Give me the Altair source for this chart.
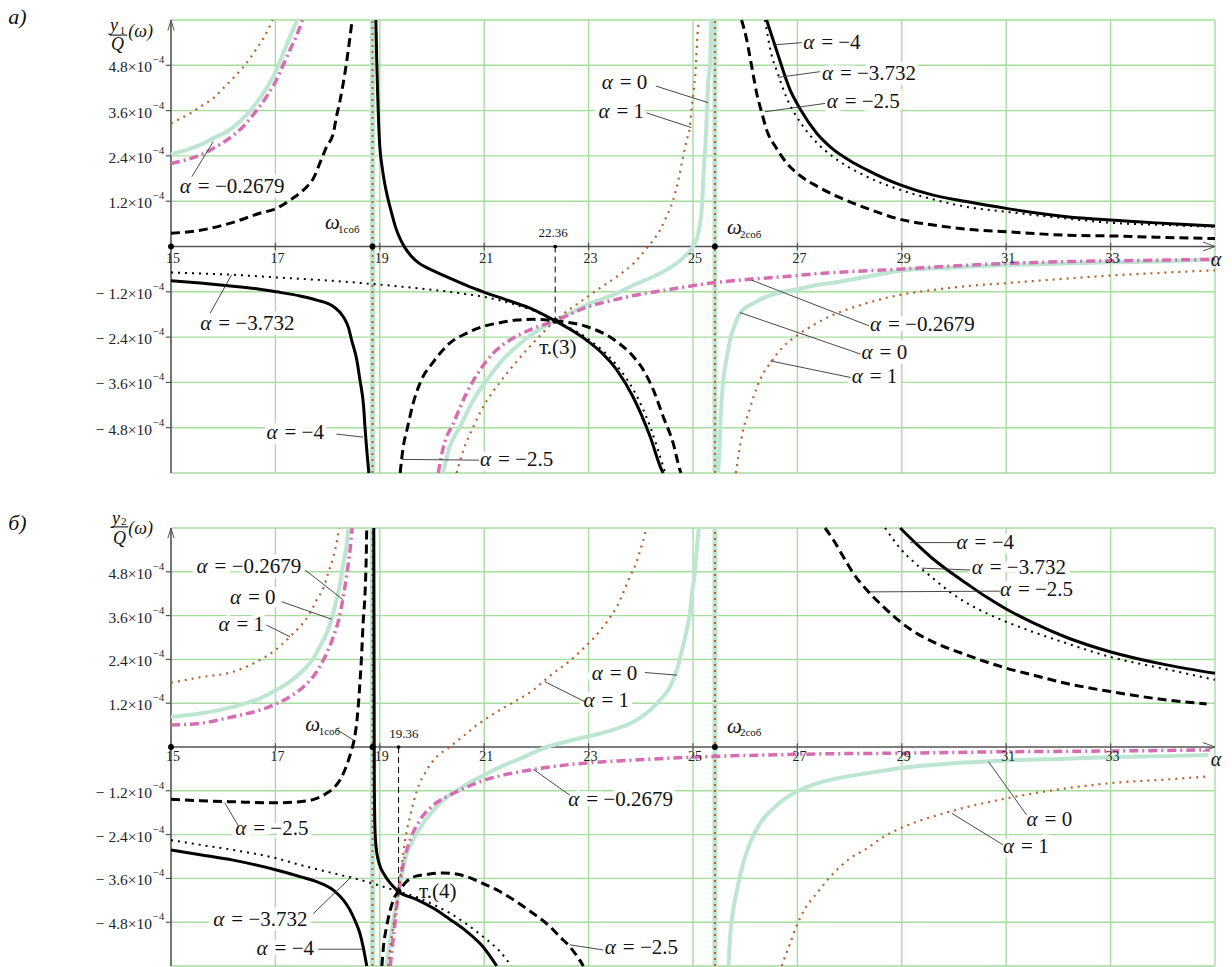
import altair as alt
import pandas as pd

# ---------------- axes, grid and special frequencies ----------------
X_TICKS = [15, 17, 19, 21, 23, 25, 27, 29, 31, 33]
X_GRID = [15, 17, 19, 21, 23, 25, 27, 29, 31, 33, 35]
Y_GRID = [-6.0, -4.8, -3.6, -2.4, -1.2, 1.2, 2.4, 3.6, 4.8, 6.0]
Y_TICKS = [-4.8, -3.6, -2.4, -1.2, 1.2, 2.4, 3.6, 4.8]
Y_TICK_TEXT = ["− 4.8×10", "− 3.6×10", "− 2.4×10", "− 1.2×10",
               "1.2×10", "2.4×10", "3.6×10", "4.8×10"]

OMEGA_1 = 18.86          # first natural frequency
OMEGA_2 = 25.42          # second natural frequency
POINT_3 = (22.36, -1.97)  # common point of the y1 family (units of 1e-4)
POINT_4 = (19.36, -3.96)  # common point of the y2 family (units of 1e-4)

# ---------------- y1/Q(ω), values in units of 1e-4 ----------------
A_M4 = [  # α = −4
    [(15.0, -0.91), (15.56, -0.97), (16.19, -1.05), (16.6, -1.11), (17.02, -1.20), (17.47, -1.31),
     (17.79, -1.42), (18.11, -1.59), (18.3, -1.86), (18.4, -2.15), (18.46, -2.48), (18.56, -3.01),
     (18.62, -3.54), (18.69, -4.24), (18.72, -4.86), (18.75, -5.39), (18.79, -6.0)],
    [(18.925, 6.0), (18.94, 5.0), (18.96, 4.0), (18.98, 3.2), (19.0, 2.65), (19.04, 2.15), (19.09, 1.7),
     (19.15, 1.3), (19.22, 0.92), (19.3, 0.52), (19.39, 0.2), (19.49, -0.05), (19.6, -0.25),
     (19.75, -0.44), (19.9, -0.56), (20.02, -0.64), (20.34, -0.84), (20.66, -1.03), (20.98, -1.2),
     (21.46, -1.43), (21.94, -1.67), (22.36, -1.97), (22.96, -2.48), (23.54, -3.27), (23.85, -3.98),
     (24.18, -5.04), (24.4, -5.92), (24.43, -6.0)],
    [(26.41, 6.0), (26.6, 5.2), (26.86, 4.15), (27.05, 3.65), (27.37, 3.0), (27.68, 2.58), (28.0, 2.28),
     (28.33, 2.03), (28.97, 1.63), (29.6, 1.36), (30.24, 1.19), (31.0, 1.01), (32.16, 0.79),
     (32.99, 0.70), (34.07, 0.61), (35.0, 0.54)],
]
A_M3732 = [  # α = −3.732
    [(15.0, -0.69), (16.19, -0.75), (17.02, -0.82), (18.11, -0.91), (18.75, -0.98), (19.39, -1.06),
     (20.02, -1.15), (20.5, -1.23), (20.98, -1.33), (21.62, -1.55), (22.0, -1.73), (22.36, -1.97),
     (22.96, -2.42), (23.54, -3.15), (23.86, -3.8), (24.2, -4.85), (24.4, -5.7), (24.47, -6.0)],
    [(26.38, 6.0), (26.5, 5.1), (26.62, 4.6), (26.79, 3.95), (27.05, 3.3), (27.37, 2.75), (27.68, 2.38),
     (28.33, 1.85), (28.97, 1.5), (29.6, 1.25), (30.24, 1.05), (31.0, 0.92), (32.16, 0.74),
     (32.99, 0.63), (34.07, 0.57), (35.0, 0.52)],
]
A_M25 = [  # α = −2.5
    [(15.0, 0.35), (15.56, 0.43), (16.19, 0.64), (16.7, 0.88), (17.02, 1.01), (17.28, 1.23), (17.54, 1.5),
     (17.73, 1.81), (17.85, 2.2), (17.98, 2.64), (18.11, 3.0), (18.17, 3.44), (18.24, 3.88),
     (18.3, 4.33), (18.37, 4.94), (18.43, 5.56), (18.47, 6.0)],
    [(19.39, -6.0), (19.45, -5.3), (19.52, -4.86), (19.64, -4.15), (19.77, -3.62), (20.03, -3.05),
     (20.34, -2.56), (20.66, -2.3), (20.98, -2.12), (21.3, -2.02), (21.62, -1.95), (21.94, -1.93),
     (22.36, -1.97), (22.96, -2.12), (23.54, -2.52), (23.86, -2.92), (24.05, -3.27), (24.24, -3.8),
     (24.43, -4.51), (24.62, -5.21), (24.75, -5.92), (24.77, -6.0)],
    [(25.93, 6.0), (26.03, 5.47), (26.09, 5.03), (26.16, 4.5), (26.22, 4.06), (26.32, 3.53),
     (26.41, 3.09), (26.6, 2.6), (26.79, 2.22), (27.05, 1.88), (27.37, 1.6), (27.68, 1.38),
     (28.33, 1.01), (28.97, 0.72), (29.6, 0.57), (30.24, 0.46), (31.0, 0.39), (32.16, 0.3),
     (32.99, 0.28), (34.07, 0.24), (35.0, 0.21)],
]
A_M02679 = [  # α = −0.2679
    [(15.0, 2.2), (15.3, 2.3), (15.56, 2.42), (15.81, 2.6), (16.07, 2.82), (16.32, 3.09), (16.58, 3.5),
     (16.83, 3.97), (17.02, 4.41), (17.15, 4.81), (17.28, 5.21), (17.41, 5.6), (17.52, 6.0)],
    [(20.12, -6.0), (20.22, -5.3), (20.41, -4.68), (20.66, -3.89), (20.92, -3.27), (21.17, -2.83),
     (21.49, -2.48), (21.94, -2.17), (22.36, -1.97), (22.96, -1.61), (23.54, -1.4), (23.86, -1.3),
     (24.5, -1.15), (24.81, -1.08), (25.39, -0.96), (26.09, -0.87), (26.73, -0.8), (27.37, -0.72),
     (27.69, -0.69), (28.97, -0.6), (29.92, -0.52), (31.0, -0.45), (32.16, -0.4), (32.99, -0.38),
     (34.07, -0.36), (35.0, -0.34)],
]
A_0 = [  # α = 0
    [(15.0, 2.45), (15.3, 2.56), (15.56, 2.69), (15.81, 2.87), (16.07, 3.04), (16.32, 3.31),
     (16.58, 3.7), (16.83, 4.19), (17.02, 4.68), (17.15, 5.12), (17.28, 5.56), (17.42, 6.0)],
    [(20.21, -6.0), (20.34, -5.3), (20.54, -4.77), (20.79, -4.07), (21.05, -3.54), (21.3, -3.09),
     (21.62, -2.65), (21.94, -2.3), (22.36, -1.97), (22.96, -1.55), (23.54, -1.24), (23.86, -1.02),
     (24.2, -0.82), (24.49, -0.62), (24.81, -0.3), (25.0, 0.0), (25.1, 0.35), (25.17, 1.05),
     (25.21, 2.11), (25.25, 3.0), (25.27, 3.7), (25.29, 4.32), (25.33, 4.94), (25.35, 6.0)],
    [(25.48, -6.0), (25.51, -5.3), (25.53, -4.51), (25.58, -3.54), (25.65, -2.92), (25.71, -2.48),
     (25.8, -2.08), (25.9, -1.77), (26.16, -1.5), (26.41, -1.33), (26.73, -1.2), (27.05, -1.12),
     (27.37, -1.02), (27.68, -0.96), (28.33, -0.8), (28.97, -0.64), (29.92, -0.56), (31.0, -0.49),
     (32.16, -0.45), (32.99, -0.42), (34.07, -0.39), (35.0, -0.34)],
]
A_1 = [  # α = 1
    [(15.0, 3.26), (15.17, 3.38), (15.36, 3.52), (15.56, 3.7), (15.81, 3.93), (16.0, 4.19),
     (16.19, 4.46), (16.39, 4.76), (16.58, 5.12), (16.77, 5.52), (16.95, 6.0)],
    [(20.47, -6.0), (20.6, -5.4), (20.8, -4.75), (21.0, -4.2), (21.3, -3.6), (21.62, -3.05),
     (21.94, -2.55), (22.36, -1.97), (22.96, -1.35), (23.22, -1.1), (23.54, -0.8), (23.86, -0.45),
     (24.11, -0.05), (24.37, 0.44), (24.49, 0.79), (24.62, 1.23), (24.72, 1.76), (24.81, 2.38),
     (24.88, 2.82), (24.94, 3.17), (24.97, 3.62), (25.0, 3.97), (25.04, 4.5), (25.06, 4.94),
     (25.08, 5.47), (25.11, 6.0)],
    [(25.82, -6.0), (25.9, -5.3), (25.96, -4.86), (26.06, -4.42), (26.16, -3.98), (26.28, -3.54),
     (26.48, -3.09), (26.73, -2.65), (26.99, -2.36), (27.37, -2.03), (27.69, -1.81), (28.33, -1.5),
     (28.97, -1.28), (29.6, -1.15), (30.24, -1.05), (31.0, -0.97), (32.16, -0.85), (32.99, -0.77),
     (34.07, -0.69), (35.0, -0.63)],
]

# ---------------- y2/Q(ω), values in units of 1e-4 ----------------
B_M4 = [
    [(15.0, -2.82), (15.56, -2.95), (16.19, -3.1), (17.02, -3.37), (17.47, -3.55), (17.79, -3.69),
     (18.11, -3.92), (18.3, -4.19), (18.43, -4.47), (18.52, -4.74), (18.62, -5.11), (18.68, -5.47),
     (18.75, -6.0)],
    [(18.885, 6.0), (18.89, 2.0), (18.895, -1.0), (18.9, -1.7), (18.91, -2.35), (18.93, -2.75),
     (18.97, -3.1), (19.02, -3.32), (19.07, -3.46), (19.2, -3.73), (19.36, -3.96), (19.71, -4.18),
     (20.03, -4.42), (20.34, -4.72), (20.66, -5.05), (20.98, -5.48), (21.24, -6.0)],
    [(28.97, 6.0), (29.29, 5.55), (29.6, 5.15), (29.92, 4.8), (30.24, 4.48), (30.63, 4.1),
     (31.0, 3.78), (31.52, 3.4), (32.16, 3.0), (32.99, 2.61), (34.07, 2.25), (35.0, 2.02)],
]
B_M3732 = [
    [(15.0, -2.55), (15.56, -2.68), (16.19, -2.82), (17.02, -3.05), (17.47, -3.23), (18.11, -3.46),
     (18.43, -3.57), (18.75, -3.69), (19.07, -3.83), (19.36, -3.96), (19.77, -4.15), (20.03, -4.32),
     (20.34, -4.55), (20.66, -4.85), (20.98, -5.2), (21.3, -5.6), (21.52, -6.0)],
    [(28.68, 6.0), (28.97, 5.44), (29.29, 4.99), (29.6, 4.62), (29.92, 4.25), (30.24, 3.95),
     (30.63, 3.66), (31.0, 3.43), (31.52, 3.15), (32.16, 2.84), (32.99, 2.47), (34.07, 2.13),
     (35.0, 1.84)],
]
B_M25 = [
    [(15.0, -1.43), (15.56, -1.47), (16.19, -1.5), (17.02, -1.53), (17.47, -1.5), (17.79, -1.41),
     (17.98, -1.27), (18.11, -1.13), (18.24, -0.9), (18.33, -0.63), (18.4, -0.36), (18.46, -0.08),
     (18.52, 0.28), (18.57, 0.83), (18.61, 1.56), (18.65, 2.47), (18.68, 3.39), (18.72, 4.3),
     (18.74, 5.21), (18.75, 6.0)],
    [(19.04, -6.0), (19.07, -5.47), (19.13, -4.92), (19.2, -4.47), (19.27, -4.15), (19.36, -3.96),
     (19.51, -3.69), (19.71, -3.53), (19.9, -3.49), (20.22, -3.45), (20.66, -3.55), (20.98, -3.74),
     (21.3, -3.96), (21.62, -4.24), (21.94, -4.56), (22.26, -4.92), (22.45, -5.2), (22.64, -5.47),
     (22.83, -5.84), (22.9, -6.0)],
    [(27.53, 6.0), (27.69, 5.67), (27.88, 5.21), (28.07, 4.76), (28.33, 4.3), (28.65, 3.84),
     (28.97, 3.43), (29.29, 3.11), (29.6, 2.88), (30.24, 2.52), (31.0, 2.16), (31.52, 1.97),
     (32.16, 1.74), (32.99, 1.52), (34.07, 1.29), (34.84, 1.18)],
]
B_M02679 = [
    [(15.0, 0.6), (15.56, 0.65), (16.19, 0.83), (16.7, 1.01), (16.96, 1.15), (17.28, 1.38),
     (17.54, 1.65), (17.79, 2.06), (17.98, 2.56), (18.11, 3.02), (18.21, 3.47), (18.3, 4.11),
     (18.37, 4.76), (18.43, 5.4), (18.47, 6.0)],
    [(19.2, -6.0), (19.28, -4.95), (19.36, -3.96), (19.45, -3.19), (19.58, -2.55), (19.77, -2.0),
     (20.03, -1.59), (20.34, -1.32), (20.66, -1.1), (20.98, -0.92), (21.3, -0.79), (21.88, -0.63),
     (22.58, -0.49), (23.22, -0.41), (23.86, -0.36), (24.49, -0.31), (25.13, -0.27), (25.77, -0.24),
     (26.41, -0.22), (27.37, -0.19), (28.97, -0.17), (31.0, -0.13), (32.99, -0.11), (34.9, -0.08)],
]
B_0 = [
    [(15.0, 0.83), (15.56, 0.92), (16.19, 1.1), (16.7, 1.33), (16.96, 1.52), (17.28, 1.79),
     (17.54, 2.11), (17.73, 2.43), (17.85, 2.75), (17.98, 3.11), (18.07, 3.48), (18.17, 4.03),
     (18.24, 4.48), (18.3, 5.03), (18.37, 5.58), (18.4, 6.0)],
    [(19.13, -6.0), (19.23, -5.01), (19.36, -3.96), (19.45, -3.3), (19.52, -2.91), (19.64, -2.55),
     (19.83, -2.09), (20.03, -1.73), (20.22, -1.45), (20.54, -1.13), (20.98, -0.78), (21.3, -0.55),
     (21.62, -0.36), (22.2, 0.0), (22.58, 0.15), (22.96, 0.28), (23.35, 0.42), (23.86, 0.69),
     (24.18, 1.01), (24.37, 1.29), (24.56, 1.65), (24.69, 2.11), (24.79, 2.66), (24.88, 3.21),
     (24.94, 3.66), (24.99, 4.3), (25.04, 4.85), (25.07, 5.4), (25.11, 6.0)],
    [(25.68, -6.0), (25.71, -5.2), (25.77, -4.47), (25.87, -3.73), (25.96, -3.19), (26.09, -2.64),
     (26.28, -2.1), (26.54, -1.68), (26.73, -1.45), (27.05, -1.18), (27.37, -1.0), (27.69, -0.88),
     (28.33, -0.72), (28.97, -0.58), (29.92, -0.45), (31.0, -0.37), (32.16, -0.32), (32.99, -0.28),
     (34.07, -0.25), (34.87, -0.22)],
]
B_1 = [
    [(15.0, 1.76), (15.56, 1.91), (16.19, 2.06), (16.7, 2.38), (16.96, 2.61), (17.28, 3.02),
     (17.47, 3.3), (17.66, 3.66), (17.79, 4.03), (17.92, 4.35), (18.01, 4.76), (18.11, 5.21),
     (18.17, 5.58), (18.22, 6.0)],
    [(19.16, -6.0), (19.22, -5.3), (19.29, -4.6), (19.36, -3.96), (19.42, -3.25), (19.48, -2.6),
     (19.58, -1.9), (19.71, -1.2), (19.9, -0.63), (20.09, -0.27), (20.34, 0.0), (20.5, 0.19),
     (20.66, 0.37), (20.82, 0.56), (20.98, 0.72), (21.17, 0.9), (21.43, 1.12), (21.69, 1.33),
     (21.94, 1.56), (22.13, 1.79), (22.32, 2.02), (22.58, 2.29), (22.87, 2.66), (23.12, 3.02),
     (23.35, 3.43), (23.54, 3.84), (23.67, 4.25), (23.79, 4.66), (23.92, 5.07), (24.01, 5.49),
     (24.08, 5.85), (24.1, 6.0)],
    [(26.7, -6.0), (26.73, -5.88), (26.86, -5.38), (26.99, -4.88), (27.15, -4.42), (27.37, -4.01),
     (27.69, -3.46), (28.01, -3.05), (28.33, -2.78), (28.65, -2.46), (28.97, -2.23), (29.92, -1.77),
     (31.0, -1.41), (32.16, -1.13), (32.99, -0.99), (34.07, -0.89), (34.84, -0.81)],
]

# ---------------- curve labels: x, y, text after α, leader x1, y1, x2, y2 ----------------
A_LABELS = [
    (15.17, 1.58, "= −0.2679", 15.40, 1.85, 15.81, 2.78),
    (27.11, 5.39, "= −4", 26.54, 5.34, 27.08, 5.40),
    (27.47, 4.57, "= −3.732", 26.63, 4.48, 27.43, 4.63),
    (27.56, 3.84, "= −2.5", 26.38, 3.57, 27.53, 3.79),
    (23.25, 4.34, "= 0", 24.29, 4.25, 25.29, 3.81),
    (23.19, 3.57, "= 1", 24.11, 3.54, 24.97, 3.15),
    (15.56, -2.06, "= −3.732", 15.75, -1.77, 16.16, -0.75),
    (16.83, -4.95, "= −4", 18.17, -4.97, 18.68, -5.05),
    (20.92, -5.66, "= −2.5", 19.42, -5.64, 20.90, -5.66),
    (28.39, -2.08, "= −0.2679", 26.12, -0.89, 28.37, -2.10),
    (28.23, -2.83, "= 0", 25.90, -1.75, 28.21, -2.85),
    (28.04, -3.45, "= 1", 26.48, -3.03, 28.02, -3.47),
]
B_LABELS = [
    (15.49, 4.94, "= −0.2679", 17.57, 4.85, 18.30, 4.03),
    (16.13, 4.07, "= 0", 17.12, 3.98, 18.08, 3.50),
    (15.91, 3.34, "= 1", 16.83, 3.34, 17.28, 3.02),
    (23.06, 1.99, "= 0", 24.08, 2.04, 24.69, 1.97),
    (22.90, 1.27, "= 1", 22.16, 1.79, 22.93, 1.24),
    (30.05, 5.60, "= −4", 29.16, 5.60, 30.08, 5.60),
    (30.34, 4.90, "= −3.732", 29.38, 4.90, 30.31, 4.85),
    (30.88, 4.30, "= −2.5", 28.39, 4.25, 30.88, 4.27),
    (16.23, -2.25, "= −2.5", 16.03, -1.53, 16.29, -2.16),
    (15.81, -4.74, "= −3.732", 17.73, -4.56, 18.46, -3.55),
    (16.64, -5.54, "= −4", 17.82, -5.54, 18.68, -5.54),
    (22.61, -1.45, "= −0.2679", 21.94, -0.61, 22.64, -1.32),
    (23.31, -5.52, "= −2.5", 22.64, -5.42, 23.28, -5.56),
    (31.39, -2.00, "= 0", 30.66, -0.40, 31.39, -1.86),
    (30.94, -2.73, "= 1", 29.96, -1.82, 30.94, -2.68),
]

# ---------------- styling ----------------
GRID = "#a6dc9e"
MINT = "#bde6d2"
PINK = "#d66db3"
RUST = "#bb5f2b"
AXIS = "#555555"
SERIF = "'Liberation Serif', 'Times New Roman', serif"
LABEL_SIZE = 21

XS = alt.Scale(domain=[15, 35], range=[171, 1215], nice=False, zero=False)
YS = {
    "a": alt.Scale(domain=[-6, 6], range=[473, 20], nice=False, zero=False),
    "b": alt.Scale(domain=[-6, 6], range=[966, 528], nice=False, zero=False),
}


def xenc():
    return alt.X("x:Q", scale=XS, axis=None)


def yenc(p):
    return alt.Y("y:Q", scale=YS[p], axis=None)


def segs(p, rows, **style):
    df = pd.DataFrame(rows, columns=["x", "y", "x2", "y2"])
    return alt.Chart(df).mark_rule(**style).encode(
        x=xenc(), y=yenc(p), x2="x2:Q", y2="y2:Q")


def words(p, rows, **style):
    df = pd.DataFrame(rows, columns=["x", "y", "t"])
    style.setdefault("baseline", "middle")
    style.setdefault("font", SERIF)
    style.setdefault("color", "#111111")
    return alt.Chart(df).mark_text(**style).encode(x=xenc(), y=yenc(p), text="t:N")


def dots(p, pts, size):
    df = pd.DataFrame(pts, columns=["x", "y"])
    return alt.Chart(df).mark_circle(size=size, color="black", opacity=1).encode(
        x=xenc(), y=yenc(p))


def curve(p, branches, **style):
    rows = [(x, y, b, k) for b, br in enumerate(branches) for k, (x, y) in enumerate(br)]
    df = pd.DataFrame(rows, columns=["x", "y", "b", "k"])
    return alt.Chart(df).mark_line(interpolate="monotone", **style).encode(
        x=xenc(), y=yenc(p), detail="b:N", order="k:Q")


def panel(p, curves, labels, extra_text, extra_segs, point, tick_dy, title):
    alpha_rows = [(x, y, "α") for x, y, *_ in labels]
    rest_rows = [(x, y, t) for x, y, t, *_ in labels]
    leaders = [(a, b, c, d) for _, _, _, a, b, c, d in labels]
    m4, m3732, m25, m02679, z0, one = curves
    L = [
        # grid
        segs(p, [(g, -6, g, 6) for g in X_GRID], color=GRID, strokeWidth=1.4),
        segs(p, [(15, g, 35, g) for g in Y_GRID], color=GRID, strokeWidth=1.4),
        # white boxes behind the labels
        words(p, alpha_rows, fontSize=LABEL_SIZE, fontStyle="italic", align="left",
              stroke="white", strokeWidth=9, color="white"),
        words(p, rest_rows, fontSize=LABEL_SIZE, align="left", dx=18,
              stroke="white", strokeWidth=9, color="white"),
        # the two resonances
        segs(p, [(w, -6, w, 6) for w in (OMEGA_1, OMEGA_2)], color=MINT, strokeWidth=5),
        segs(p, [(w, -6, w, 6) for w in (OMEGA_1, OMEGA_2)], color=RUST, strokeWidth=2,
             strokeDash=[2, 4]),
        # axes
        segs(p, [(15, 0, 35, 0), (15, -6, 15, 6)], color=AXIS, strokeWidth=1.5),
        segs(p, [(t, -0.1, t, 0.1) for t in X_TICKS], color=AXIS, strokeWidth=1.2),
        segs(p, [(14.9, g, 15, g) for g in Y_TICKS], color=AXIS, strokeWidth=1.2),
        segs(p, [(34.77, 0.12, 35, 0), (34.77, -0.12, 35, 0),
                 (14.94, 5.72, 15, 6), (15.06, 5.72, 15, 6)], color=AXIS, strokeWidth=1),
        # curves
        curve(p, z0, color=MINT, strokeWidth=4),
        curve(p, m02679, color=PINK, strokeWidth=3.5, strokeDash=[9, 4, 2, 4]),
        curve(p, one, color=RUST, strokeWidth=2.2, strokeDash=[2, 5]),
        curve(p, m25, color="black", strokeWidth=3, strokeDash=[9, 5]),
        curve(p, m3732, color="black", strokeWidth=2, strokeDash=[2, 5]),
        curve(p, m4, color="black", strokeWidth=3),
        # common point and marks on the axis
        segs(p, [(point[0], 0, point[0], point[1])], color="black", strokeWidth=1,
             strokeDash=[6, 4]),
        dots(p, [(15, 0), (OMEGA_1, 0), (OMEGA_2, 0), point], 34),
        dots(p, [(point[0], 0)], 14),
        # leaders
        segs(p, leaders + extra_segs, color="#333333", strokeWidth=0.9),
        # curve labels
        words(p, alpha_rows, fontSize=LABEL_SIZE, fontStyle="italic", align="left"),
        words(p, rest_rows, fontSize=LABEL_SIZE, align="left", dx=18),
        # tick labels
        words(p, [(t, 0, str(t)) for t in X_TICKS], fontSize=14, align="center", dx=2,
              dy=tick_dy, color="#222222"),
        words(p, [(15, v, s) for v, s in zip(Y_TICKS, Y_TICK_TEXT)], fontSize=15.5,
              align="right", dx=-19, dy=2, color="#222222"),
        words(p, [(15, v, "−4") for v in Y_TICKS], fontSize=10.5, align="left", dx=-18,
              dy=-5, color="#222222"),
    ]
    for rows, style in extra_text:
        L.append(words(p, rows, **style))
    # y-axis title drawn as a fraction
    (yx, yy), (sx, sy, sub), (bx1, bx2, by), (qx, qy), (wx, wy), (px, py, plabel) = title
    L += [
        words(p, [(yx, yy, "y")], fontSize=18, fontStyle="italic", align="left"),
        words(p, [(sx, sy, sub)], fontSize=11, align="left"),
        segs(p, [(bx1, by, bx2, by)], color="black", strokeWidth=1),
        words(p, [(qx, qy, "Q")], fontSize=18, fontStyle="italic", align="left"),
        words(p, [(wx, wy, "(ω)")], fontSize=18, fontStyle="italic", align="left"),
        words(p, [(px, py, plabel)], fontSize=22, fontStyle="italic", align="left"),
        words(p, [(34.92, -0.36, "α")], fontSize=20, fontStyle="italic", align="left"),
    ]
    return L


a_text = [
    ([(17.95, 0.62, "ω"), (25.65, 0.49, "ω")], dict(fontSize=21, fontStyle="italic", align="left")),
    ([(18.2, 0.44, "1соб"), (25.9, 0.30, "2соб")], dict(fontSize=11, align="left")),
    ([(22.32, 0.36, "22.36")], dict(fontSize=13, align="center")),
    ([(22.41, -2.69, "т.(3)")], dict(fontSize=21, align="center")),
]
b_text = [
    ([(17.57, 0.60, "ω"), (25.65, 0.55, "ω")], dict(fontSize=21, fontStyle="italic", align="left")),
    ([(17.83, 0.42, "1соб"), (25.9, 0.38, "2соб")], dict(fontSize=11, align="left")),
    ([(19.46, 0.36, "19.36")], dict(fontSize=13, align="center")),
    ([(20.11, -3.96, "т.(4)")], dict(fontSize=21, align="center")),
]

layers = panel(
    "a", [A_M4, A_M3732, A_M25, A_M02679, A_0, A_1], A_LABELS, a_text, [], POINT_3, 12,
    [(13.83, 5.84), (14.02, 5.71, "1"), (13.83, 14.16, 5.6), (13.85, 5.34), (14.18, 5.68),
     (11.88, 6.08, "а)")],
) + panel(
    "b", [B_M4, B_M3732, B_M25, B_M02679, B_0, B_1], B_LABELS, b_text,
    [(18.17, 0.48, 18.52, 0.17)], POINT_4, 10,
    [(13.87, 6.25), (14.04, 6.16, "2"), (13.87, 14.18, 6.03), (13.89, 5.7), (14.18, 5.97),
     (11.88, 6.14, "б)")],
)

chart = (
    alt.layer(*layers)
    .resolve_scale(y="independent")
    .properties(width=1232, height=967, autosize=alt.AutoSizeParams(type="none"), padding=0,
                background="white")
    .configure_view(stroke=None)
)

chart.save("out.html", embed_options={"renderer": "svg", "actions": False})
